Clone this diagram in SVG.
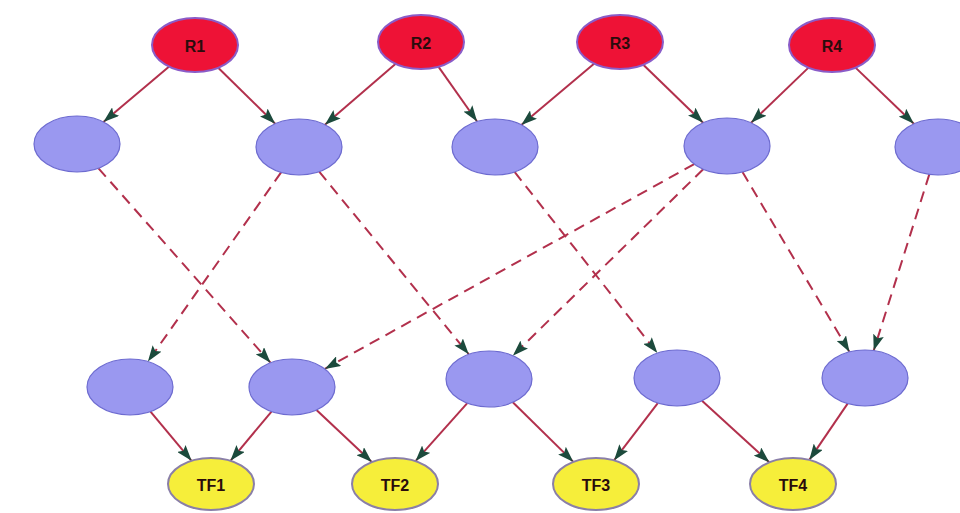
<svg xmlns="http://www.w3.org/2000/svg" width="960" height="513" viewBox="0 0 960 513">
<style>
.r{fill:#ee1236;stroke:#8a5cc8;stroke-width:2}
.p{fill:#9a98f0;stroke:#6d6bd0;stroke-width:1.2}
.y{fill:#f6ee3a;stroke:#8a7fa8;stroke-width:2}
.t{font-family:"Liberation Sans",Arial,sans-serif;font-weight:bold;font-size:16px;fill:#2a0c0c;text-anchor:middle;dominant-baseline:central}
.e{stroke:#b2304c;stroke-width:2;fill:none;marker-end:url(#a)}
.d{stroke-dasharray:11,7}
</style>
<defs>
<marker id="a" markerWidth="17" markerHeight="11" refX="16" refY="5.5" orient="auto" markerUnits="userSpaceOnUse">
<path d="M0,0 L16,5.5 L0,11 L3,5.5 z" fill="#1c4a3c"/>
</marker>
</defs>
<rect width="960" height="513" fill="#ffffff"/>
<g id="edges">
<line class="e" x1="169.2" y1="66.6" x2="103.4" y2="121.9"/>
<line class="e" x1="218.2" y1="67.7" x2="275.2" y2="123.7"/>
<line class="e" x1="395.7" y1="63.8" x2="324.9" y2="124.7"/>
<line class="e" x1="438.4" y1="66.7" x2="477.1" y2="121.5"/>
<line class="e" x1="594.3" y1="63.6" x2="521.3" y2="124.9"/>
<line class="e" x1="643.3" y1="64.7" x2="703.1" y2="122.7"/>
<line class="e" x1="808.5" y1="67.6" x2="751.1" y2="122.8"/>
<line class="e" x1="855.5" y1="67.6" x2="913.9" y2="123.8"/>
<line class="e d" x1="98.5" y1="168.3" x2="270.5" y2="362.7"/>
<line class="e d" x1="281.1" y1="172.4" x2="147.9" y2="361.6"/>
<line class="e d" x1="319.2" y1="171.7" x2="468.8" y2="354.3"/>
<line class="e d" x1="514.6" y1="171.9" x2="657.4" y2="353.1"/>
<line class="e d" x1="694.2" y1="164.1" x2="324.8" y2="368.9"/>
<line class="e d" x1="703.2" y1="169.3" x2="512.8" y2="355.7"/>
<line class="e d" x1="742.5" y1="172.1" x2="849.5" y2="351.9"/>
<line class="e d" x1="929.3" y1="174.4" x2="873.7" y2="350.6"/>
<line class="e" x1="150.5" y1="411.6" x2="191.6" y2="460.8"/>
<line class="e" x1="271.5" y1="411.6" x2="230.4" y2="460.8"/>
<line class="e" x1="316.5" y1="410" x2="371.8" y2="462.1"/>
<line class="e" x1="467.3" y1="403.2" x2="415.5" y2="461.1"/>
<line class="e" x1="512.8" y1="402.3" x2="573.4" y2="461.9"/>
<line class="e" x1="657.8" y1="403.1" x2="614" y2="460.4"/>
<line class="e" x1="702" y1="400.8" x2="769.3" y2="462.3"/>
<line class="e" x1="847.6" y1="403.6" x2="809.3" y2="459.9"/>
</g>
<g id="R1"><ellipse class="r" cx="195" cy="45" rx="43" ry="27"/><text class="t" x="195" y="46">R1</text></g>
<g id="R2"><ellipse class="r" cx="421" cy="42" rx="43" ry="27"/><text class="t" x="421" y="43">R2</text></g>
<g id="R3"><ellipse class="r" cx="620" cy="42" rx="43" ry="27"/><text class="t" x="620" y="43">R3</text></g>
<g id="R4"><ellipse class="r" cx="832" cy="45" rx="43" ry="27"/><text class="t" x="832" y="46">R4</text></g>
<g id="N1"><ellipse class="p" cx="77" cy="144" rx="43" ry="28"/></g>
<g id="N2"><ellipse class="p" cx="299" cy="147" rx="43" ry="28"/></g>
<g id="N3"><ellipse class="p" cx="495" cy="147" rx="43" ry="28"/></g>
<g id="N4"><ellipse class="p" cx="727" cy="146" rx="43" ry="28"/></g>
<g id="N5"><ellipse class="p" cx="938" cy="147" rx="43" ry="28"/></g>
<g id="M1"><ellipse class="p" cx="130" cy="387" rx="43" ry="28"/></g>
<g id="M2"><ellipse class="p" cx="292" cy="387" rx="43" ry="28"/></g>
<g id="M3"><ellipse class="p" cx="489" cy="379" rx="43" ry="28"/></g>
<g id="M4"><ellipse class="p" cx="677" cy="378" rx="43" ry="28"/></g>
<g id="M5"><ellipse class="p" cx="865" cy="378" rx="43" ry="28"/></g>
<g id="TF1"><ellipse class="y" cx="211" cy="484" rx="43" ry="26"/><text class="t" x="211" y="485">TF1</text></g>
<g id="TF2"><ellipse class="y" cx="395" cy="484" rx="43" ry="26"/><text class="t" x="395" y="485">TF2</text></g>
<g id="TF3"><ellipse class="y" cx="596" cy="484" rx="43" ry="26"/><text class="t" x="596" y="485">TF3</text></g>
<g id="TF4"><ellipse class="y" cx="793" cy="484" rx="43" ry="26"/><text class="t" x="793" y="485">TF4</text></g>
</svg>
